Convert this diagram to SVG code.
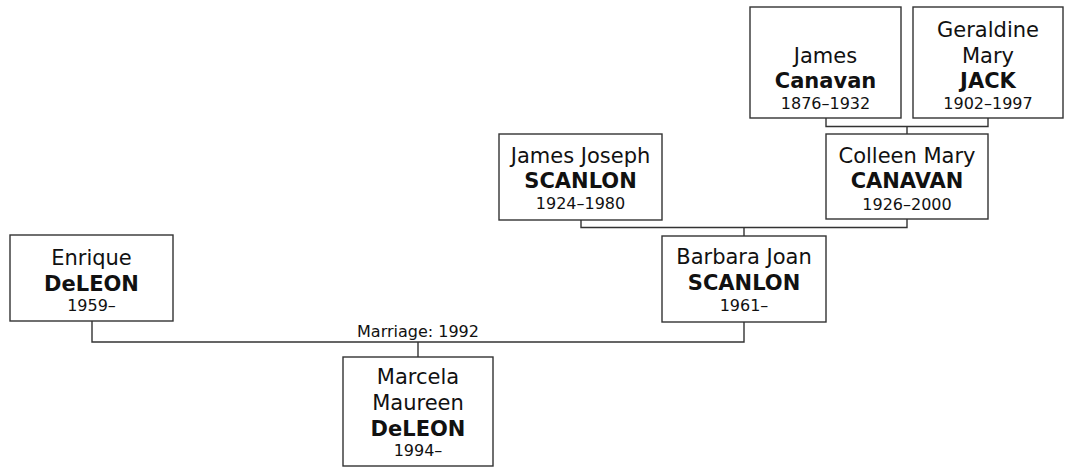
<svg xmlns="http://www.w3.org/2000/svg" width="1066" height="468" viewBox="0 0 1066 468">
<style>
.box{fill:#fff;stroke:#333;stroke-width:1.4}
.con{fill:none;stroke:#333;stroke-width:1.4}
text{font-family:"DejaVu Sans",Verdana,sans-serif;fill:#111;text-anchor:middle}
.n{font-size:21px}
.s{font-size:21px;font-weight:bold}
.y{font-size:16px}
.m{font-size:16px}
</style>
<rect width="1066" height="468" fill="#fff"/>
<g id="connectors">
<polyline class="con" points="92,321 92,342 744,342 744,322"/>
<line class="con" x1="418" y1="342" x2="418" y2="357"/>
<polyline class="con" points="581,220 581,227.5 907,227.5 907,219"/>
<line class="con" x1="744" y1="227.5" x2="744" y2="236"/>
<polyline class="con" points="826,118 826,126.5 988,126.5 988,118"/>
<line class="con" x1="907" y1="126.5" x2="907" y2="134"/>
<text class="m" x="418" y="337">Marriage: 1992</text>
</g>
<g id="enrique">
<rect class="box" x="10" y="235" width="163" height="86"/>
<text class="n" x="91.5" y="265">Enrique</text>
<text class="s" x="91.5" y="291">DeLEON</text>
<text class="y" x="91.5" y="311">1959–</text>
</g>
<g id="marcela">
<rect class="box" x="343" y="357" width="150" height="109"/>
<text class="n" x="418" y="384">Marcela</text>
<text class="n" x="418" y="410">Maureen</text>
<text class="s" x="418" y="436">DeLEON</text>
<text class="y" x="418" y="456">1994–</text>
</g>
<g id="barbara">
<rect class="box" x="662" y="236" width="164" height="86"/>
<text class="n" x="744" y="264">Barbara Joan</text>
<text class="s" x="744" y="290">SCANLON</text>
<text class="y" x="744" y="311">1961–</text>
</g>
<g id="jamesjoseph">
<rect class="box" x="499" y="134" width="163" height="86"/>
<text class="n" x="580.5" y="163">James Joseph</text>
<text class="s" x="580.5" y="188">SCANLON</text>
<text class="y" x="580.5" y="209">1924–1980</text>
</g>
<g id="colleen">
<rect class="box" x="826" y="134" width="162" height="85"/>
<text class="n" x="907" y="163">Colleen Mary</text>
<text class="s" x="907" y="188">CANAVAN</text>
<text class="y" x="907" y="210">1926–2000</text>
</g>
<g id="jamescanavan">
<rect class="box" x="750" y="7" width="151" height="111"/>
<text class="n" x="825.5" y="63">James</text>
<text class="s" x="825.5" y="88">Canavan</text>
<text class="y" x="825.5" y="109">1876–1932</text>
</g>
<g id="geraldine">
<rect class="box" x="913" y="7" width="150" height="111"/>
<text class="n" x="988" y="37">Geraldine</text>
<text class="n" x="988" y="63">Mary</text>
<text class="s" x="988" y="88">JACK</text>
<text class="y" x="988" y="109">1902–1997</text>
</g>
</svg>
